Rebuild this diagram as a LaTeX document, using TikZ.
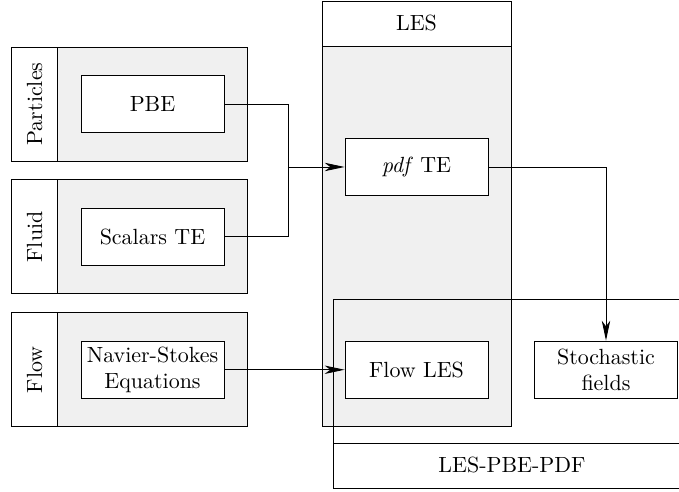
\documentclass[tikz,border=0pt]{standalone}
\usepackage{tikz}
\usetikzlibrary{
    positioning,
    arrows.meta,
    calc
}

\begin{document}
\begin{tikzpicture}[
    node distance=0.288cm,
    group/.style={
        rectangle,
        draw=black,
        fill=gray!12,
        minimum width=3.76cm,
        minimum height=1.824cm,
        inner sep=0pt
    },
    tag/.style={
        rectangle,
        draw=black,
        fill=white,
        rotate=90,
        minimum width=1.824cm,
        minimum height=0.736cm,
        inner sep=0pt
    },
    model/.style={
        rectangle,
        draw=black,
        fill=white,
        minimum width=2.288cm,
        minimum height=0.92cm,
        align=center,
        inner sep=1pt
    },
    frame/.style={rectangle, draw=black, inner sep=0pt},
    arrow/.style={-{Stealth[length=9pt, width=3.8pt, inset=2.5pt]}}
]
\useasboundingbox (0,0) rectangle (10.864,7.872);

% Input groups
\node[group] (pgroup) at (2.072,6.208) {};
\node[tag] (particles) at ([xshift=0.368cm]pgroup.west) {Particles};
\node[model] (pbe) at ([xshift=0.368cm]pgroup.center) {PBE};

\node[group, below=of pgroup] (fgroup) {};
\node[tag] (fluid) at ([xshift=0.368cm]fgroup.west) {Fluid};
\node[model] (scalars) at ([xshift=0.368cm]fgroup.center) {Scalars TE};

\node[group, below=of fgroup] (wgroup) {};
\node[tag] (flow) at ([xshift=0.368cm]wgroup.west) {Flow};
\node[model] (nse) at ([xshift=0.368cm]wgroup.center) {Navier-Stokes\\Equations};

% LES column
\node[frame, fill=gray!12, minimum width=3.024cm, minimum height=6.8cm] (lescol) at (6.664,4.456) {};
\node[frame, fill=white, minimum width=3.024cm, minimum height=0.72cm, anchor=north] (leshead) at (lescol.north) {LES};

% Coupled framework (runs past the right edge)
\node[frame, minimum width=5.728cm, minimum height=3.024cm] (couple) at (8.192,1.576) {};
\node[frame, minimum width=5.728cm, minimum height=0.72cm, anchor=south] (couplename) at (couple.south) {LES-PBE-PDF};

% Models
\node[model] (pdfte) at (lescol.center |- 0,5.2) {\textit{pdf} TE};
\node[model] (flowles) at (lescol.center |- nse.center) {Flow LES};
\node[model] (stoch) at (9.696,0 |- nse.center) {Stochastic\\fields};

% Connectors
\coordinate (merge) at (4.608,0 |- pdfte.west);
\draw (pbe.east) -| (merge);
\draw (scalars.east) -| (merge);
\draw[arrow] (merge) -- (pdfte.west);
\draw[arrow] (pdfte.east) -| (stoch.north);
\draw[arrow] (nse.east) -- (flowles.west);

\end{tikzpicture}
\end{document}
